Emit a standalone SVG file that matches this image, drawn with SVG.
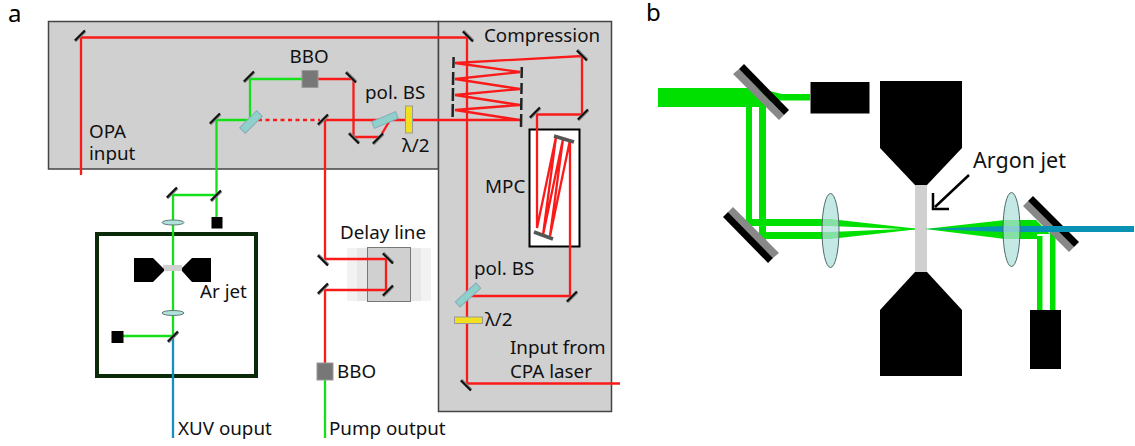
<svg xmlns="http://www.w3.org/2000/svg" width="1135" height="446" viewBox="0 0 1135 446">
<style>
text{font-family:"Noto Sans","DejaVu Sans",sans-serif;font-size:18.8px;fill:#111}
.big{font-size:24px;fill:#000}
.panel{fill:#d0d0d0;stroke:#444;stroke-width:1.5}
.r{fill:none;stroke:#fb1a1a;stroke-width:2.300}
.g{fill:none;stroke:#14e01a;stroke-width:2.300}
.b{fill:none;stroke:#1590c0;stroke-width:2.300}
.mg{stroke:#888;stroke-width:3.400;fill:none}
.mk{stroke:#111;stroke-width:2;fill:none}
.cm{stroke:#222;stroke-width:2.500;fill:none}
.bs{fill:#8fd0ca;stroke:#8ab;stroke-width:1}
.bbo{fill:#777;stroke:#999;stroke-width:1}
.wp{fill:#f2e020;stroke:#999;stroke-width:1}
.lens{fill:#b0e0da;stroke:#607a76;stroke-width:1}
.lensb{fill:#b0e0da;fill-opacity:.75;stroke:#4f6b68;stroke-width:1}
.bk{fill:#000}
.gf{fill:#00e000}
.gr{fill:#888}
</style>
<defs>
<g id="mu"><line class="mg" x1="-5" y1="5" x2="5" y2="-5"/><line class="mk" x1="-5" y1="4.500" x2="5" y2="-5.500"/></g>
<g id="md"><line class="mg" x1="-5" y1="-5" x2="5" y2="5"/><line class="mk" x1="-5" y1="-4.500" x2="5" y2="5.500"/></g>
</defs>
<g id="panels">
<path class="panel" d="M48.500 21.500H438.500V169H48.500Z"/>
<path class="panel" d="M438.500 21.500H611.500V411.500H438.500Z"/>
</g>
<g id="delay-line">
<rect x="347" y="248" width="84" height="53" fill="#f2f2f2"/>
<rect x="357" y="248" width="64" height="53" fill="#e8e8e8"/>
<rect x="367.500" y="247.500" width="43" height="54" fill="#d0d0d0" stroke="#777" stroke-width="1"/>
</g>
<g id="mpc"><rect x="529.500" y="129.500" width="50" height="117" fill="#fff" stroke="#000" stroke-width="2"/></g>
<g id="chamber"><rect x="97" y="234" width="159" height="142" fill="#fff" stroke="#0a2a0a" stroke-width="4"/></g>
<g id="connectors">
<path class="r" d="M81 175V37.500H467V383.500H620"/>
<path class="r" d="M318 79H353.500V137H380L390 120"/>
<path class="r" stroke-dasharray="4 3.500" d="M258 120H320"/>
<path class="r" d="M325 120H520L455 110L520 105L455 95L520 89L455 79L520 72L455 63L582 56V114.500H537V228L556 137L543 235L563 139L550 236L570 140V296H467"/>
<path class="r" d="M325 120V259H386V290H325V365"/>
<path class="g" d="M325 380V438"/>
<path class="g" d="M216.500 120V195M216.500 120H250M250 120V79H302"/>
<path class="g" d="M216.500 195H173V336H123"/>
<path class="g" d="M216.500 195V218"/>
<path class="b" d="M173 337V438"/>
</g>
<g id="optics-a">
<use href="#mu" x="80" y="36"/><use href="#md" x="468" y="36"/><use href="#mu" x="249" y="77"/><use href="#md" x="351" y="77"/>
<use href="#mu" x="215" y="119"/><use href="#mu" x="323" y="120"/><use href="#md" x="354" y="138"/><use href="#mu" x="378" y="139"/>
<use href="#mu" x="172" y="193"/><use href="#mu" x="216" y="196"/><use href="#mu" x="173" y="337"/>
<use href="#mu" x="535" y="113"/><use href="#mu" x="583" y="115"/><use href="#md" x="582" y="55"/><use href="#mu" x="572" y="297"/><use href="#md" x="466" y="385"/>
<use href="#md" x="388" y="258"/><use href="#mu" x="388" y="291"/><use href="#md" x="323" y="260"/><use href="#mu" x="323" y="289"/>
<path class="cm" d="M453.600 57L453.400 68M453.200 72L453 85M453 88L452.800 101M452.800 104L452.600 117M521.800 67L521.600 78M521.600 83L521.400 94M521.400 98L521.200 110M521.200 114L521 127"/>
<path d="M554 136L574 142" stroke="#555" stroke-width="3.500"/>
<path d="M534 232L553 239" stroke="#555" stroke-width="3.500"/>
<rect class="bs" x="-12" y="-4" width="24" height="8" transform="translate(251 122) rotate(-45)"/>
<rect class="bs" x="-13" y="-3.500" width="26" height="7" transform="translate(385 120) rotate(-23)"/>
<rect class="bs" x="-14" y="-3.500" width="28" height="7" transform="translate(468 295) rotate(-42)"/>
<rect class="wp" x="405.500" y="106" width="7" height="27"/>
<rect class="wp" x="454.500" y="317" width="28" height="6.500"/>
<rect class="bbo" x="302" y="70.500" width="16" height="17"/>
<rect class="bbo" x="317" y="363" width="16" height="17"/>
<ellipse class="lens" cx="173" cy="222.500" rx="11" ry="2.500"/>
<ellipse class="lens" cx="173" cy="313" rx="11" ry="2.500"/>
<rect class="bk" x="211.500" y="217" width="11" height="11.500"/>
<rect class="bk" x="111.500" y="331" width="12" height="12"/>
<rect x="163" y="265" width="19" height="6" fill="#d0d0d0"/>
<path class="bk" d="M134 258H153L164 269V271L153 282H134Z"/>
<path class="bk" d="M211 258H192L182 268V271L192 282H211Z"/>
</g>
<g id="gas-b"><rect x="915" y="185" width="12" height="87" fill="#d0d0d0"/></g>
<g id="beams-b">
<rect class="gf" x="746" y="100" width="6" height="128"/>
<rect class="gf" x="759" y="100" width="7" height="140"/>
<path class="gf" d="M658 88H757L782 94H810V100.500H771V107H658Z"/>
<path class="gf" d="M750 219H830L915 228.500V229.500L830 226H750Z"/>
<path class="gf" d="M760 232H830L915 228.500V229.500L830 239H760Z"/>
<path class="gf" d="M925 229L1005 220H1036L1050 234H1037V239H1005Z"/>
<rect class="gf" x="1037" y="236" width="5.500" height="75"/>
<rect class="gf" x="1050" y="232" width="5.500" height="79"/>
</g>
<g id="mirrors-b">
<path class="gr" d="M739 69L784 115L779 120L733 74Z"/><path class="bk" d="M744 64L789 110L784 115L739 69Z"/>
<path class="gr" d="M733 207L779 253L773 258L728 212Z"/><path class="bk" d="M728 212L773 258L768 263L723 217Z"/>
<path class="gr" d="M1028 201L1074 247L1069 252L1023 206Z"/><path class="bk" d="M1033 196L1079 242L1074 247L1028 201Z"/>
<path d="M925 229L1005 226H1134V232H1005Z" fill="#0a92b4"/>
</g>
<g id="nozzles-b">
<path class="bk" d="M880 81H962V148L927 185H915L880 148Z"/>
<path class="bk" d="M915 272H927L962 310V376H880V310Z"/>
<rect class="bk" x="810.500" y="82" width="59" height="31.500"/>
<rect class="bk" x="1030" y="310" width="31" height="59"/>
<ellipse class="lensb" cx="830.500" cy="230.500" rx="8.500" ry="37"/>
<ellipse class="lensb" cx="1011.500" cy="229.500" rx="8.500" ry="37"/>
<path d="M969 175L935 207M933 193V209H949" fill="none" stroke="#000" stroke-width="2.500"/>
</g>
<g id="labels">
<text class="big" x="8" y="22">a</text>
<text class="big" x="646" y="21">b</text>
<text x="289.500" y="62.500">BBO</text>
<text x="365" y="98.500">pol. BS</text>
<text x="402" y="151.500">λ/2</text>
<text x="89" y="138">OPA</text>
<text x="89" y="160">input</text>
<text x="484" y="42">Compression</text>
<text x="485" y="193">MPC</text>
<text x="340" y="239">Delay line</text>
<text x="200" y="298">Ar jet</text>
<text x="474" y="275">pol. BS</text>
<text x="485" y="326">λ/2</text>
<text x="510" y="354">Input from</text>
<text x="510" y="378">CPA laser</text>
<text x="337" y="378">BBO</text>
<text x="329" y="435">Pump output</text>
<text x="178" y="435">XUV ouput</text>
<text x="973" y="168" style="font-size:21.500px">Argon jet</text>
</g>
</svg>
